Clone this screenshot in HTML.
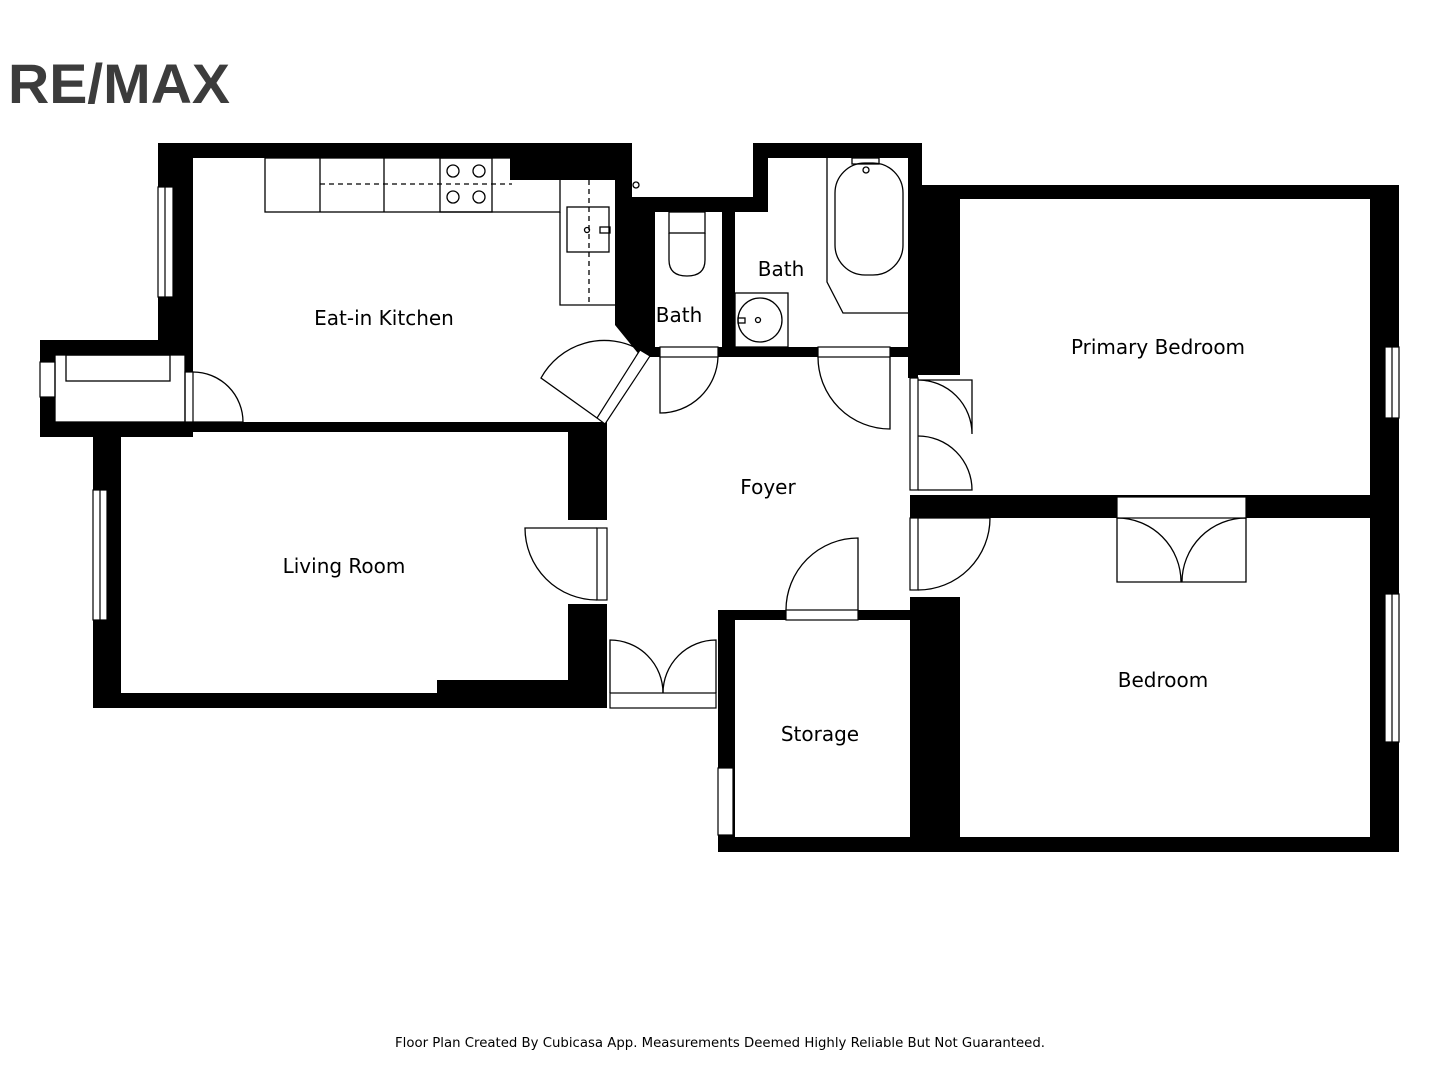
<!DOCTYPE html>
<html><head><meta charset="utf-8"><style>
html,body{margin:0;padding:0;background:#fff;}
svg{display:block}
</style></head><body>
<svg width="1440" height="1080" viewBox="0 0 1440 1080" xmlns="http://www.w3.org/2000/svg">
<rect width="1440" height="1080" fill="#fff"/>
<text x="8" y="103" font-family="Liberation Sans, sans-serif" font-weight="bold" font-size="56" fill="#3c3c3c" textLength="222" lengthAdjust="spacingAndGlyphs">RE/MAX</text>

<g fill="#000">
<!-- kitchen -->
<rect x="158" y="143" width="472" height="15"/>
<rect x="510" y="143" width="120" height="37"/>
<rect x="158" y="143" width="35" height="197"/>
<rect x="615" y="143" width="17" height="182"/>
<polygon points="615,197 655,197 655,350 645,362 615,325"/>
<rect x="40" y="422" width="567" height="10"/>
<!-- closet left -->
<rect x="40" y="340" width="153" height="15"/>
<rect x="40" y="340" width="15" height="97"/>
<rect x="40" y="422" width="153" height="15"/>
<rect x="185" y="355" width="8" height="17"/>
<!-- living -->
<rect x="93" y="432" width="28" height="276"/>
<rect x="93" y="693" width="514" height="15"/>
<rect x="437" y="680" width="131" height="15"/>
<rect x="568" y="432" width="39" height="88"/>
<rect x="568" y="604" width="39" height="90"/>
<polygon points="596,424 607,424 607,432 600,432"/>
<!-- baths -->
<rect x="630" y="197" width="123" height="15"/>
<rect x="753" y="143" width="169" height="15"/>
<rect x="753" y="143" width="15" height="69"/>
<rect x="722" y="212" width="13" height="143"/>
<rect x="645" y="347" width="277" height="10"/>
<rect x="908" y="143" width="14" height="214"/>
<!-- primary bedroom -->
<rect x="922" y="185" width="477" height="14"/>
<rect x="908" y="185" width="52" height="190"/>
<rect x="1370" y="185" width="29" height="333"/>
<rect x="910" y="495" width="489" height="23"/>
<!-- bedroom -->
<rect x="1370" y="518" width="29" height="334"/>
<rect x="910" y="597" width="50" height="255"/>
<rect x="718" y="837" width="681" height="15"/>
<!-- storage -->
<rect x="718" y="610" width="17" height="242"/>
<rect x="718" y="610" width="200" height="10"/>
<rect x="908" y="355" width="10" height="23"/>
</g>

<g fill="#fff" stroke="#000" stroke-width="1.2">
<!-- windows -->
<rect x="158" y="187" width="15" height="110"/>
<line x1="165" y1="187" x2="165" y2="297"/>
<rect x="40" y="362" width="15" height="35"/>
<rect x="93" y="490" width="14" height="130"/>
<line x1="100" y1="490" x2="100" y2="620"/>
<rect x="1385" y="347" width="14" height="71"/>
<line x1="1392" y1="347" x2="1392" y2="418"/>
<rect x="1385" y="594" width="14" height="148"/>
<line x1="1392" y1="594" x2="1392" y2="742"/>
<rect x="718" y="768" width="15" height="67"/>
<!-- door frames -->
<rect x="185" y="372" width="8" height="50"/>
<rect x="597" y="528" width="10" height="72"/>
<rect x="660" y="347" width="58" height="10"/>
<rect x="818" y="347" width="72" height="10"/>
<rect x="910" y="378" width="8" height="112"/>
<rect x="910" y="518" width="8" height="72"/>
<rect x="1117" y="497" width="129" height="21"/>
<rect x="786" y="610" width="72" height="10"/>
<rect x="610" y="693" width="106" height="15"/>
<polygon points="640,350 650,356 605,424 597,418"/>
</g>

<g fill="none" stroke="#000" stroke-width="1.3">
<!-- kitchen furniture -->
<rect x="265" y="158" width="295" height="54"/>
<line x1="320" y1="158" x2="320" y2="212"/><line x1="384" y1="158" x2="384" y2="212"/>
<rect x="440" y="158" width="52" height="54"/>
<circle cx="453" cy="171" r="6"/><circle cx="479" cy="171" r="6"/><circle cx="453" cy="197" r="6"/><circle cx="479" cy="197" r="6"/>
<polyline points="560,212 560,305 615,305"/>
<rect x="567" y="207" width="42" height="45"/>
<circle cx="587" cy="230" r="2.5"/><rect x="600" y="227" width="10" height="6"/>
<line x1="320" y1="184" x2="512" y2="184" stroke-dasharray="5,4"/>
<line x1="589" y1="180" x2="589" y2="302" stroke-dasharray="5,4"/>
<!-- closet box -->
<rect x="55" y="355" width="130" height="67"/>
<rect x="66" y="355" width="104" height="26"/>
<!-- bath fixtures -->
<rect x="669" y="212" width="36" height="21"/>
<path d="M669,233 L669,260 Q669,276 687,276 Q705,276 705,260 L705,233"/>
<rect x="735" y="293" width="53" height="54"/>
<circle cx="760" cy="320" r="22"/>
<circle cx="758" cy="320" r="2.5"/>
<rect x="738" y="318" width="7" height="5"/>
<path d="M827,158 L827,282 L843,313 L908,313"/>
<rect x="835" y="163" width="68" height="112" rx="30"/>
<circle cx="866" cy="170" r="3"/>
<rect x="852" y="158" width="27" height="6"/>
<circle cx="636" cy="185" r="3"/>
<!-- doors -->
<path d="M193,372 A50,50 0 0 1 243,422 L193,422"/>
<path d="M597,528 L525,528 A72,72 0 0 0 597,600"/>
<path d="M660,357 L660,413 A58,58 0 0 0 718,357"/>
<path d="M890,357 L890,429 A72,72 0 0 1 818,357"/>
<path d="M918,380 L972,380 L972,434 A54,54 0 0 0 918,380"/>
<path d="M918,490 L972,490 A54,54 0 0 0 918,436"/>
<path d="M918,518 L990,518 A72,72 0 0 1 918,590"/>
<path d="M1117,518 L1117,582 L1181,582 A64,64 0 0 0 1117,518"/>
<path d="M1246,518 L1246,582 L1182,582 A64,64 0 0 1 1246,518"/>
<path d="M858,610 L858,538 A72,72 0 0 0 786,610"/>
<path d="M610,693 L610,640 A53,53 0 0 1 663,693"/>
<path d="M716,693 L716,640 A53,53 0 0 0 663,693"/>
<path d="M597,418 L541,378 A72,72 0 0 1 640,350"/>
</g>

<g font-family="DejaVu Sans, Liberation Sans, sans-serif" font-size="20" fill="#000" text-anchor="middle">
<text x="384" y="325">Eat-in Kitchen</text>
<text x="679" y="322">Bath</text>
<text x="781" y="276">Bath</text>
<text x="1158" y="354">Primary Bedroom</text>
<text x="768" y="494">Foyer</text>
<text x="344" y="573">Living Room</text>
<text x="1163" y="687">Bedroom</text>
<text x="820" y="741">Storage</text>
</g>
<text x="720" y="1047" text-anchor="middle" font-family="DejaVu Sans, Liberation Sans, sans-serif" font-size="13" fill="#000" textLength="650" lengthAdjust="spacingAndGlyphs">Floor Plan Created By Cubicasa App. Measurements Deemed Highly Reliable But Not Guaranteed.</text>
</svg>
</body></html>
